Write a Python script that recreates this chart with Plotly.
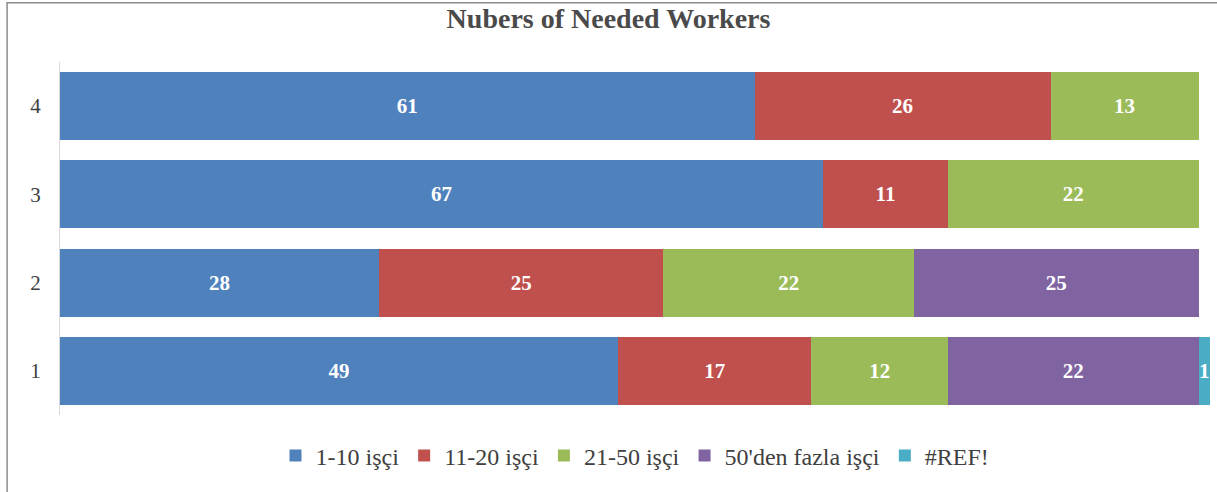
import plotly.graph_objects as go

categories = ["1", "2", "3", "4"]
series_names = ["1-10 işçi", "11-20 işçi", "21-50 işçi", "50'den fazla işçi", "#REF!"]
v_1_10 = [49, 28, 67, 61]
v_11_20 = [17, 25, 11, 26]
v_21_50 = [12, 22, 22, 13]
v_50_plus = [22, 25, None, None]
v_ref = [1, None, None, None]

colors = ["#4F81BD", "#C0504D", "#9BBB59", "#8064A2", "#4BACC6"]
SERIF = "Liberation Serif, Times New Roman, serif"

fig = go.Figure()
for name, vals, color in zip(series_names, [v_1_10, v_11_20, v_21_50, v_50_plus, v_ref], colors):
    fig.add_trace(go.Bar(
        name=name,
        y=categories,
        x=vals,
        orientation="h",
        marker=dict(color=color, line=dict(width=0)),
        texttemplate="<b>%{x}</b>",
        textposition="inside",
        insidetextanchor="middle",
        textangle=0,
        constraintext="none",
        textfont=dict(family=SERIF, size=21, color="white"),
    ))

fig.update_layout(
    barmode="stack",
    bargap=0.23,
    width=1217,
    height=492,
    paper_bgcolor="white",
    plot_bgcolor="white",
    margin=dict(l=60, r=7, t=62, b=77),
    title=dict(
        text="<b>Nubers of Needed Workers</b>",
        x=0.5, xanchor="center",
        y=0.962, yanchor="middle",
        font=dict(family=SERIF, size=28, color="#4a4a4a"),
    ),
    xaxis=dict(range=[0, 101], showticklabels=False, showgrid=False, zeroline=False, showline=False),
    yaxis=dict(
        showgrid=False, zeroline=False, automargin=False,
        showline=True, linecolor="#d9d9d9", linewidth=1,
        ticks="", ticklabelstandoff=14,
        tickfont=dict(family=SERIF, size=21, color="#404040"),
    ),
    legend=dict(
        orientation="h", x=0.5, xanchor="center", y=-0.116, yanchor="middle",
        traceorder="normal",
        font=dict(family=SERIF, size=24, color="#404040"),
        itemwidth=30,
    ),
    shapes=[
        dict(type="line", xref="paper", yref="paper", x0=-0.046, x1=-0.046, y0=-0.22, y1=1.17,
             line=dict(color="#8c8c8c", width=1.5)),
        dict(type="line", xref="paper", yref="paper", x0=-0.046, x1=1.01, y0=1.168, y1=1.168,
             line=dict(color="#8c8c8c", width=1.5)),
    ],
)

fig.write_html("out.html", config={"displayModeBar": False},
               post_script="document.body.style.margin='0';")
